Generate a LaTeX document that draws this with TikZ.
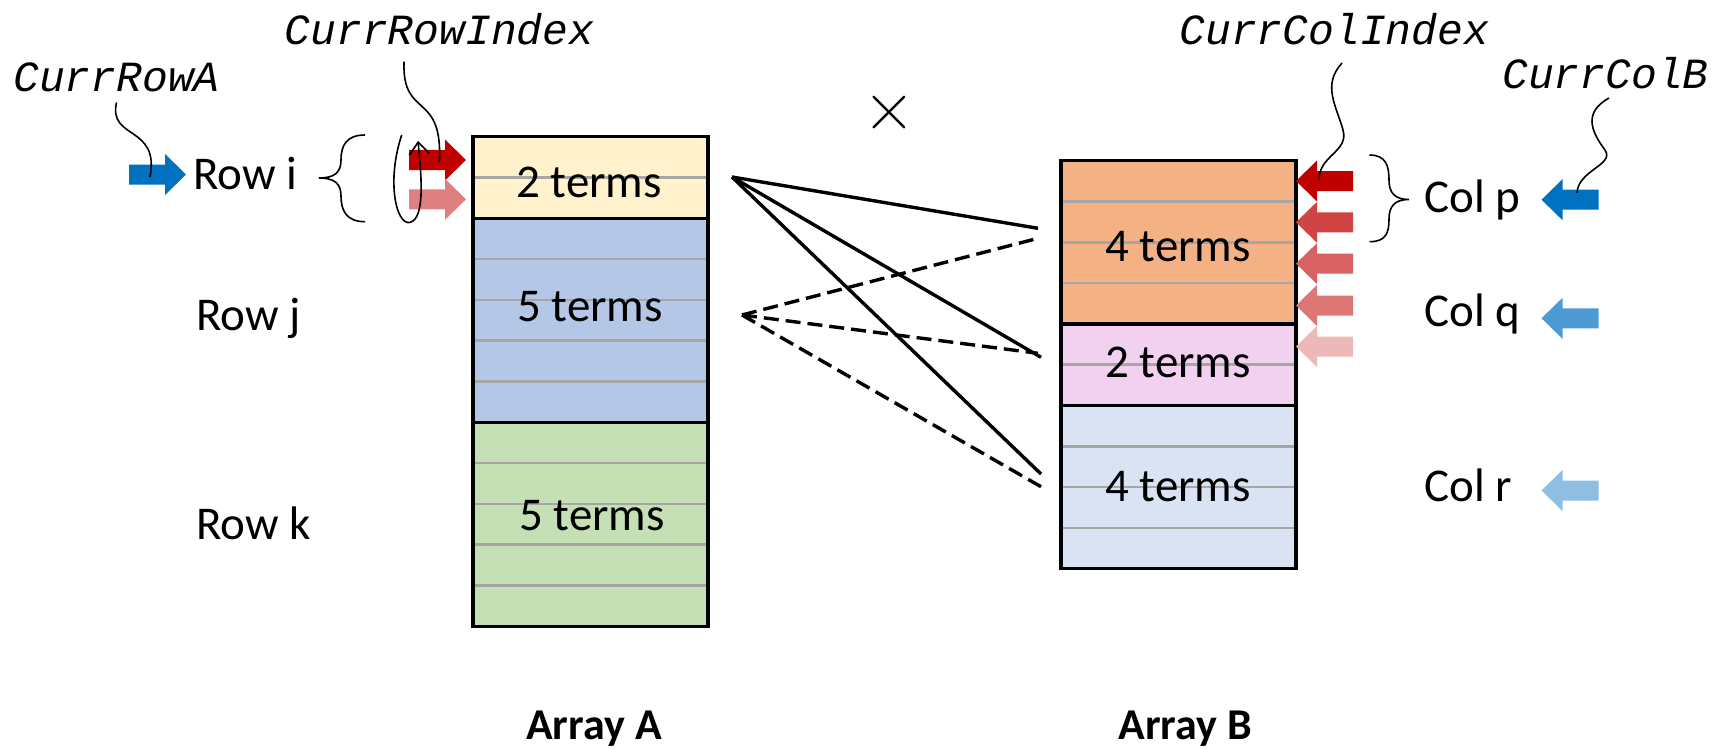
\documentclass[tikz,border=0pt]{standalone}
\usepackage{fontspec}
\setmainfont{Carlito}
\newfontfamily\codefont{Liberation Mono}
\newfontfamily\symfont{Latin Modern Roman}
\usetikzlibrary{arrows.meta}

\definecolor{cellYellow}{HTML}{FFF2CC}
\definecolor{cellBlue}{HTML}{B4C7E7}
\definecolor{cellGreen}{HTML}{C5E0B4}
\definecolor{cellOrange}{HTML}{F4B183}
\definecolor{cellPink}{HTML}{F2D0EF}
\definecolor{cellIce}{HTML}{DAE3F3}
\definecolor{gridGray}{HTML}{A6A6A6}
\definecolor{redA}{HTML}{C00000}
\definecolor{redB}{HTML}{D14444}
\definecolor{redC}{HTML}{D96161}
\definecolor{redD}{HTML}{DE7676}
\definecolor{redE}{HTML}{EDB8B8}
\definecolor{redSoft}{HTML}{DF7F7F}
\definecolor{blueA}{HTML}{0070C0}
\definecolor{blueB}{HTML}{4E9BD4}
\definecolor{blueC}{HTML}{8EBFE3}

% one block of an array: x-left, x-right, y-top, number of rows, fill colour
\newcommand\cellblock[5]{%
  \fill[#5] (#1,#3) rectangle (#2,{#3+#4*40.8});
  \pgfmathtruncatemacro\lastline{#4-1}%
  \foreach \k in {1,...,\lastline}
    \draw[gridline] (#1,{#3+\k*40.8}) -- (#2,{#3+\k*40.8});
  \draw[cellborder] (#1,#3) rectangle (#2,{#3+#4*40.8});
}

\tikzset{
  gridline/.style={draw=gridGray, line width=1.3pt},
  cellborder/.style={draw=black, line width=1.6pt},
  termtxt/.style={font=\fontsize{23.5}{28}\selectfont, inner sep=0pt, anchor=base},
  sidetxt/.style={font=\fontsize{23.5}{28}\selectfont, inner sep=0pt, anchor=base west},
  titletxt/.style={font=\fontsize{22}{26}\selectfont\bfseries, inner sep=0pt, anchor=base},
  codetxt/.style={font=\fontsize{21.5}{26}\selectfont\codefont\itshape, inner sep=0pt, anchor=base},
  pairline/.style={draw=black, line width=1.7pt},
  pairdash/.style={draw=black, line width=1.7pt, dash pattern=on 7.5pt off 3.5pt},
  wiggle/.style={draw=black, line width=0.8pt},
  pics/ptrR/.style={code={\fill[#1] (-57,-10) -- (-21,-10) -- (-21,-20.5) -- (0,0) -- (-21,20.5) -- (-21,10) -- (-57,10) -- cycle;}},
  pics/ptrL/.style={code={\fill[#1] (57,-10) -- (21,-10) -- (21,-20.5) -- (0,0) -- (21,20.5) -- (21,10) -- (57,10) -- cycle;}},
}

\begin{document}
\begin{tikzpicture}[x=0.5pt,y=-0.5pt]
\fill[white] (0,0) rectangle (1729,749);
\useasboundingbox (0,0) rectangle (1729,749);

% Array A
\cellblock{473}{708}{136.7}{2}{cellYellow}
\cellblock{473}{708}{218.3}{5}{cellBlue}
\cellblock{473}{708}{422.3}{5}{cellGreen}
\node[termtxt] (aI) at (589,197.3) {2 terms};
\node[termtxt] (aJ) at (590,321) {5 terms};
\node[termtxt] (aK) at (592,530) {5 terms};

% Array B
\cellblock{1061}{1296}{160.7}{4}{cellOrange}
\cellblock{1061}{1296}{323.9}{2}{cellPink}
\cellblock{1061}{1296}{405.5}{4}{cellIce}
\node[termtxt] (bP) at (1178,261) {4 terms};
\node[termtxt] (bQ) at (1178,377) {2 terms};
\node[termtxt] (bR) at (1178,501) {4 terms};

% titles
\node[titletxt] (titleA) at (594,739) {Array A};
\node[titletxt] (titleB) at (1185,739) {Array B};

% multiplication sign
\node[font=\fontsize{36}{36}\selectfont\symfont, inner sep=0pt] (times) at (889.7,113) {×};

% row and column labels
\node[sidetxt] (rowI) at (193,190) {Row i};
\node[sidetxt] (rowJ) at (196,330) {Row j};
\node[sidetxt] (rowK) at (196,539) {Row k};
\node[sidetxt] (colP) at (1424,212.7) {Col p};
\node[sidetxt] (colQ) at (1424,326.7) {Col q};
\node[sidetxt] (colR) at (1424,501.5) {Col r};

% pointer labels
\node[codetxt] (curRowA) at (116.5,91.7) {CurrRowA};
\node[codetxt] (curRowIdx) at (439.6,45) {CurrRowIndex};
\node[codetxt] (curColIdx) at (1334.4,45) {CurrColIndex};
\node[codetxt] (curColB) at (1605.5,88.3) {CurrColB};

% pointer arrows
\pic at (186,174.5) {ptrR=blueA};
\pic at (466,160) {ptrR=redA};
\pic at (466,199.3) {ptrR=redSoft};
\pic at (1296,181) {ptrL=redA};
\pic at (1296,222.3) {ptrL=redB};
\pic at (1296,263.6) {ptrL=redC};
\pic at (1296,305.5) {ptrL=redD};
\pic at (1296,346.5) {ptrL=redE};
\pic at (1541.5,199.7) {ptrL=blueA};
\pic at (1541.5,318.3) {ptrL=blueB};
\pic at (1541.5,490.5) {ptrL=blueC};

% braces
\draw[wiggle] (365,135) .. controls (346,135) and (341,146) .. (341,160)
  .. controls (341,172) and (335,178) .. (319,178)
  .. controls (335,178) and (341,184) .. (341,196)
  .. controls (341,210) and (346,221.7) .. (365,221.7);
\draw[wiggle] (1369.5,155) .. controls (1386,155) and (1389,166) .. (1389,180)
  .. controls (1389,192) and (1394,199.5) .. (1409,199.5)
  .. controls (1394,199.5) and (1389,207) .. (1389,219)
  .. controls (1389,233) and (1386,241.7) .. (1369.5,241.7);

% loop over the rows of A
\draw[wiggle, -{Straight Barb[length=6pt,width=10pt]}]
  (401.7,135) .. controls (385,185) and (398,232) .. (413,221)
  .. controls (425,212) and (421,172) .. (418,141);

% connectors from the pointer labels
\coordinate (rowAend) at (150,177);
\coordinate (rowIdxEnd) at (439.4,162);
\coordinate (colIdxEnd) at (1319,180);
\coordinate (colBend) at (1577,193);
\draw[wiggle] ([yshift=-5pt]curRowA.south) .. controls (108,140) and (160,125) .. (rowAend);
\draw[wiggle] (404,61.7) .. controls (402,120) and (443,90) .. (rowIdxEnd);
\draw[wiggle] (1342,63) .. controls (1322,85) and (1336,105) .. (1343,130)
  .. controls (1349,152) and (1319,155) .. (colIdxEnd);
\draw[wiggle] (1609,98) .. controls (1584,112) and (1590,130) .. (1605,150)
  .. controls (1615,165) and (1578,170) .. (colBend);

% row-by-column pairings
\coordinate (fromI) at (732,177);
\coordinate (fromJ) at (742,315);
\coordinate (iToP) at (1038,228.3);
\coordinate (iToQ) at (1041,357.3);
\coordinate (iToR) at (1041,474);
\coordinate (jToP) at (1038,238.3);
\coordinate (jToQ) at (1038,353.3);
\coordinate (jToR) at (1041,486.7);
\draw[pairline] (fromI) -- (iToP);
\draw[pairline] (fromI) -- (iToQ);
\draw[pairline] (fromI) -- (iToR);
\draw[pairdash] (fromJ) -- (jToP);
\draw[pairdash] (fromJ) -- (jToQ);
\draw[pairdash] (fromJ) -- (jToR);
\end{tikzpicture}
\end{document}
